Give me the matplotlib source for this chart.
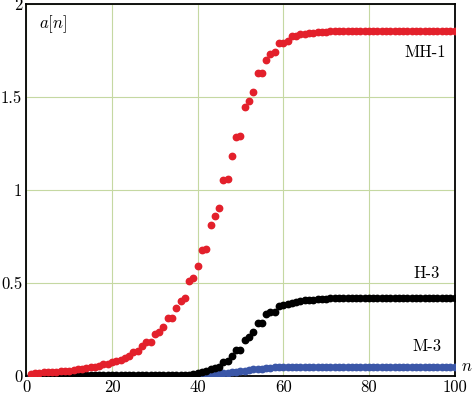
import numpy as np
import matplotlib
matplotlib.use('Agg')
import matplotlib.pyplot as plt

# sample index n = 1..100
n = np.arange(1, 101)

# MH-1 (red)
mh1 = [0.012, 0.014, 0.016, 0.018, 0.019, 0.020, 0.022, 0.024, 0.026, 0.028,
       0.031, 0.034, 0.037, 0.041, 0.045, 0.050, 0.055, 0.061, 0.066, 0.072,
       0.078, 0.085, 0.095, 0.105, 0.127, 0.136, 0.158, 0.180, 0.184, 0.226,
       0.233, 0.260, 0.310, 0.310, 0.367, 0.405, 0.420, 0.510, 0.525, 0.590,
       0.676, 0.681, 0.810, 0.860, 0.903, 1.054, 1.061, 1.183, 1.283, 1.290,
       1.446, 1.477, 1.527, 1.627, 1.627, 1.697, 1.733, 1.740, 1.789, 1.790,
       1.803, 1.828, 1.830, 1.836, 1.840, 1.843, 1.846, 1.848, 1.849, 1.850] + [1.852] * 30

# H-3 (black)
h3 = [0.003] * 38 + [
       0.009, 0.014, 0.018, 0.028, 0.036, 0.041, 0.047, 0.075, 0.081, 0.107,
       0.138, 0.138, 0.195, 0.210, 0.236, 0.282, 0.282, 0.334, 0.342, 0.344,
       0.375, 0.379, 0.388, 0.393, 0.398, 0.402, 0.406, 0.408, 0.410, 0.412,
       0.413, 0.415] + [0.417] * 30

# M-3 (blue)
m3 = [0.001] * 40 + [
       0.002, 0.004, 0.006, 0.008, 0.010, 0.013, 0.016, 0.019, 0.022, 0.025,
       0.028, 0.031, 0.034, 0.037, 0.039, 0.041, 0.043, 0.045, 0.046, 0.047,
       0.047] + [0.048] * 39

RED = '#e3202b'
BLUE = '#3b57a8'
GRID = '#c5d8a2'

plt.rcParams.update({
    'font.family': 'cmr10',
    'mathtext.fontset': 'cm',
    'axes.formatter.use_mathtext': True,
    'font.size': 12,
})

fig = plt.figure(figsize=(4.72, 3.96), dpi=100)
ax = fig.add_axes([0.056, 0.051, 0.907, 0.939])

ax.plot(n, m3, 'o', ms=4.6, color=BLUE, mec=BLUE, zorder=3)
ax.plot(n, h3, 'o', ms=4.6, color='black', mec='black', zorder=4)
ax.plot(n, mh1, 'o', ms=4.6, color=RED, mec=RED, zorder=5)

ax.set_xlim(0, 100)
ax.set_ylim(0, 2)
ax.set_xticks([0, 20, 40, 60, 80, 100])
ax.set_xticklabels(['0', '20', '40', '60', '80', '100'])
ax.set_yticks([0, 0.5, 1, 1.5, 2])
ax.set_yticklabels(['0', '0.5', '1', '1.5', '2'])
ax.tick_params(length=0, pad=3, labelsize=12)
ax.grid(True, color=GRID, lw=0.8)
ax.set_axisbelow(True)
for sp in ax.spines.values():
    sp.set_linewidth(1.3)

ax.text(0.03, 0.975, r'$a[n]$', transform=ax.transAxes, ha='left', va='top', fontsize=12)
ax.text(98, 1.74, 'MH-1', ha='right', va='center', fontsize=12)
ax.text(96.5, 0.55, 'H-3', ha='right', va='center', fontsize=12)
ax.text(97, 0.16, 'M-3', ha='right', va='center', fontsize=12)
ax.text(1.015, 0.025, r'$n$', transform=ax.transAxes, ha='left', va='center', fontsize=12)

fig.savefig('out.png', dpi=100)
